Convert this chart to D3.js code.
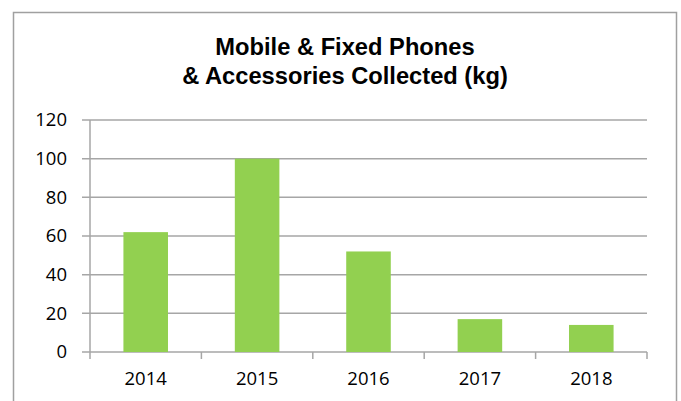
<!DOCTYPE html>
<html>
  <head>
    <meta charset="utf-8" />
    <title>Phones collected</title>
    <script src="https://cdn.jsdelivr.net/npm/d3@7"></script>
    <style>
      body { margin: 0; background: #fff; }
      svg { display: block; }
    </style>
  </head>
  <body>
    <script>
// values
      var years = ["2014", "2015", "2016", "2017", "2018"];
      var kg = [62, 100, 52, 17, 14];
      var yTicks = [0, 20, 40, 60, 80, 100, 120];
      var titleLines = ["Mobile & Fixed Phones", "& Accessories Collected (kg)"];

      var w = 681, h = 401,
          margin = {top: 120, right: 34, bottom: 49, left: 90},
          iw = w - margin.left - margin.right,
          ih = h - margin.top - margin.bottom,
          gridColor = "#a6a6a6";

      var svg = d3.select("body").append("svg")
        .attr("width", w)
        .attr("height", h);

      // chart frame (bottom edge is off the picture)
      svg.append("path")
        .attr("d", "M13.5," + (h + 5) + "V12.5H676.5V" + (h + 5))
        .attr("fill", "none")
        .attr("stroke", "#a0a0a0")
        .attr("stroke-width", 1.5);

      svg.selectAll("text.title")
        .data(titleLines)
        .enter()
          .append("text")
          .attr("class", "title")
          .attr("x", 345)
          .attr("y", function(d, i) { return 55 + i * 29; })
          .attr("text-anchor", "middle")
          .attr("font-family", "Liberation Sans, Arial, sans-serif")
          .attr("font-weight", "bold")
          .attr("font-size", 23.7)
          .attr("fill", "#000")
          .text(function(d) { return d; });

      var g = svg.append("g")
        .attr("transform", "translate(" + margin.left + "," + margin.top + ")");

      var x = d3.scaleBand()
        .domain(years)
        .range([0, iw])
        .paddingInner(0.6)
        .paddingOuter(0.3);

      var y = d3.scaleLinear()
        .domain([0, 120])
        .range([ih, 0]);

      // gridlines, with the small tick stubs left of the axis
      g.selectAll("line.grid")
        .data(yTicks)
        .enter()
          .append("line")
          .attr("class", "grid")
          .attr("x1", -8)
          .attr("x2", iw)
          .attr("y1", function(d) { return y(d); })
          .attr("y2", function(d) { return y(d); })
          .attr("stroke", gridColor)
          .attr("stroke-width", 1.5);

      g.append("line")
        .attr("x1", 0).attr("x2", 0)
        .attr("y1", 0).attr("y2", ih)
        .attr("stroke", gridColor)
        .attr("stroke-width", 1.5);

      // category boundary ticks under the axis
      var edges = years.map(function(d) { return x(d) - x.step() * x.paddingInner() / 2; });
      edges.push(iw);
      g.selectAll("line.xtick")
        .data(edges)
        .enter()
          .append("line")
          .attr("class", "xtick")
          .attr("x1", function(d) { return d; })
          .attr("x2", function(d) { return d; })
          .attr("y1", ih)
          .attr("y2", ih + 7)
          .attr("stroke", gridColor)
          .attr("stroke-width", 1.5);

      g.selectAll("rect")
        .data(years)
        .enter()
          .append("rect")
          .attr("x", function(d) { return x(d); })
          .attr("y", function(d, i) { return y(kg[i]); })
          .attr("width", x.bandwidth())
          .attr("height", function(d, i) { return ih - y(kg[i]); })
          .attr("fill", "#92d050");

      var yAxis = g.append("g")
        .call(d3.axisLeft(y).tickValues(yTicks).tickSize(0).tickPadding(23));
      var xAxis = g.append("g")
        .attr("transform", "translate(0," + ih + ")")
        .call(d3.axisBottom(x).tickSize(0).tickPadding(20));

      [yAxis, xAxis].forEach(function(a) {
        a.select(".domain").remove();
        a.selectAll("text")
          .attr("font-family", "Open Sans, sans-serif")
          .attr("font-size", 18.5)
          .attr("fill", "#000");
      });
    </script>
  </body>
</html>
